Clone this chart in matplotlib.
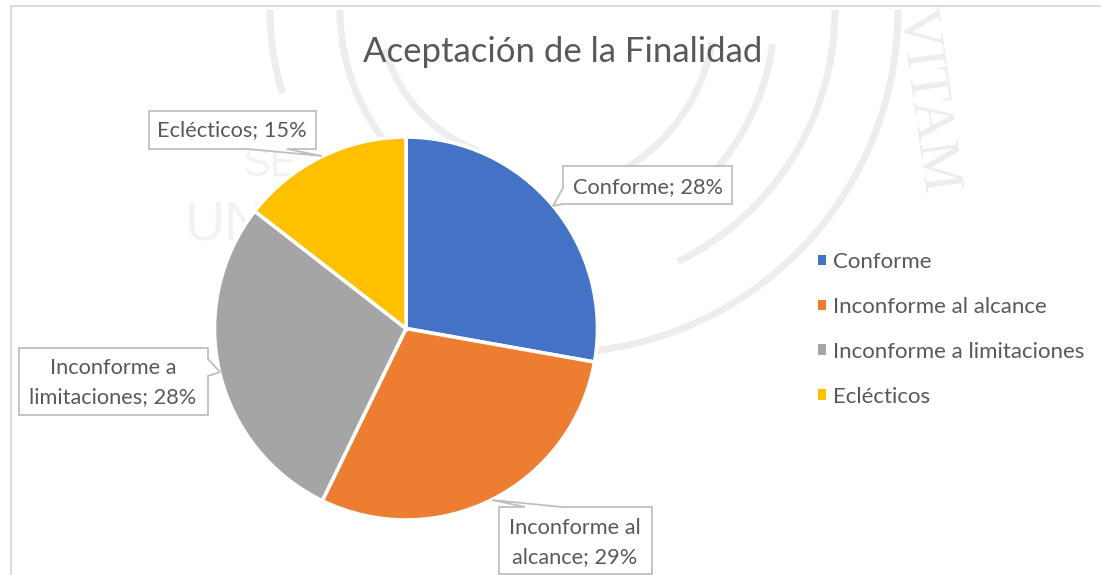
import matplotlib
matplotlib.use("Agg")
import matplotlib.pyplot as plt
from matplotlib.patches import Arc, Polygon

categories = ["Conforme", "Inconforme al alcance", "Inconforme a limitaciones", "Eclécticos"]
values = [27.8, 29.4, 28.3, 14.5]
colors = ["#4472C4", "#ED7D31", "#A5A5A5", "#FFC000"]
callout_lines = [["Conforme; 28%"], ["Inconforme al", "alcance; 29%"], ["Inconforme a", "limitaciones; 28%"], ["Eclécticos; 15%"]]

W, H = 1101, 575
plt.rcParams["font.family"] = ["Lato", "DejaVu Sans"]
text_gray = "#595959"
line_gray = "#BFBFBF"

# everything is placed in image pixels, y flipped so numbers read like the picture
def Y(y):
    return H - y

fig = plt.figure(figsize=(W / 100, H / 100), dpi=100)
ax = fig.add_axes([0, 0, 1, 1])

# faint seal behind the chart
seal = "#EDEDED"
for cx, cy, r, a1, a2 in [(555, 10, 343, 0, 83), (555, 10, 280, 0, 64),
                          (555, 10, 285, 163, 180), (555, 10, 215, 120, 180),
                          (530, 10, 245, 8, 50), (530, 10, 185, 10, 80),
                          (530, 10, 150, 110, 165)]:
    ax.add_patch(Arc((cx, Y(cy)), 2 * r, 2 * r, theta1=-a2, theta2=-a1, color=seal, lw=5, zorder=0))
ax.text(927, Y(100), "VITAM", rotation=-82, family="Liberation Serif", fontsize=42,
        color=seal, ha="center", va="center", zorder=0)
ax.text(225, Y(225), "UN", family="Liberation Sans", fontsize=40, color="#F2F2F2", ha="center", va="center", zorder=0)
ax.text(270, Y(165), "SE", family="Liberation Sans", fontsize=30, color="#F2F2F2", ha="center", va="center", zorder=0)

wedges, _ = ax.pie(values, colors=colors, startangle=90, counterclock=False,
                   center=(406, Y(328.5)), radius=191.5, frame=True,
                   wedgeprops={"edgecolor": "white", "linewidth": 2.6})

ax.set_xlim(0, W)
ax.set_ylim(0, H)
ax.set_aspect("equal")
ax.axis("off")

# chart frame, only top and left are visible in the crop
ax.plot([10.5, 10.5, W], [Y(H), Y(5.5), Y(5.5)], color="#D9D9D9", lw=1.4, zorder=1)

ax.text(562.5, Y(52), "Aceptación de la Finalidad", fontsize=25, color=text_gray,
        ha="center", va="center")

# callouts: box outline including the little pointer
shapes = [
    [(563, 166), (732, 166), (732, 204), (563, 204), (553, 206), (563, 188)],
    [(499, 507), (525, 507), (492, 500), (562, 507), (652, 507), (652, 574), (499, 574)],
    [(19, 348), (208, 348), (208, 359), (220, 372), (208, 376), (208, 415), (19, 415)],
    [(149, 111), (316, 111), (316, 149), (287, 149), (322, 156), (248, 149), (149, 149)],
]
text_pos = [(648, [187]), (575, [528, 557]), (113, [368, 397]), (232, [130])]
for shape, lines, (tx, tys) in zip(shapes, callout_lines, text_pos):
    ax.add_patch(Polygon([(x, Y(y)) for x, y in shape], closed=True, facecolor="white",
                         edgecolor=line_gray, lw=1.3, zorder=3))
    for line, ty in zip(lines, tys):
        ax.text(tx, Y(ty), line, fontsize=15.7, color=text_gray, ha="center", va="center", zorder=4)

leg = ax.legend(wedges, categories, loc="upper left", bbox_to_anchor=(818 / W, Y(252) / H),
                frameon=False, fontsize=16, labelcolor=text_gray, handlelength=0.36,
                handleheight=0.36, handletextpad=0.32, labelspacing=1.12, borderpad=0, borderaxespad=0)
for h in leg.legend_handles:
    h.set_edgecolor("none")

fig.savefig("out.png", dpi=100)
